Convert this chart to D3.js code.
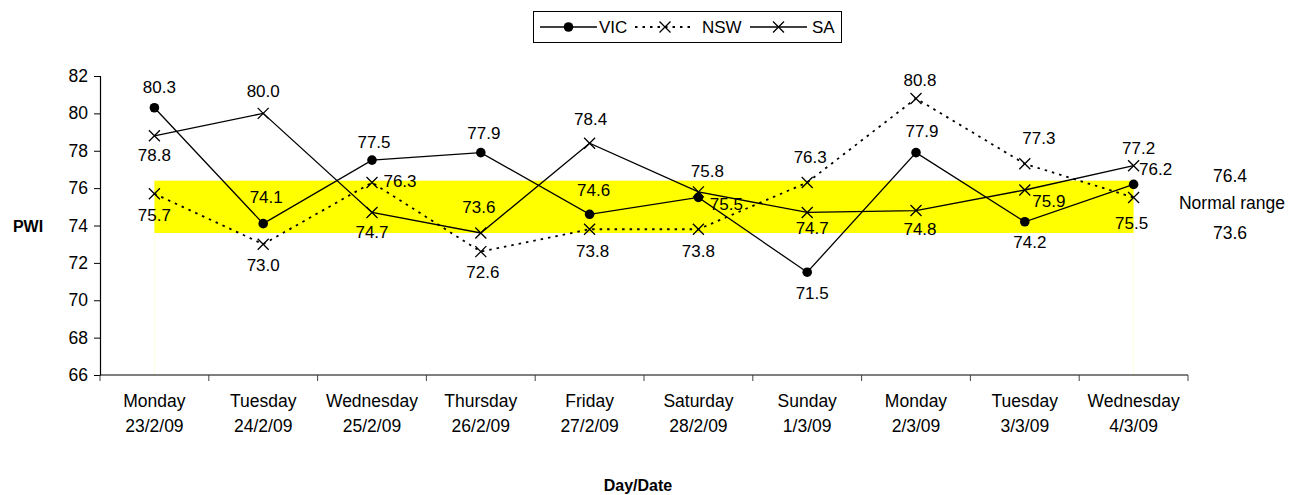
<!DOCTYPE html>
<html>
<head>
<meta charset="utf-8">
<script src="https://cdn.jsdelivr.net/npm/d3@7"></script>
<style>
  body { margin: 0; background: #fff; }
  svg text { font-family: "Liberation Sans", Arial, sans-serif; fill: #000; }
</style>
</head>
<body>
<div id="chart-area"></div>
<script>
// Chart data
const days = ['Monday', 'Tuesday', 'Wednesday', 'Thursday', 'Friday', 'Saturday', 'Sunday', 'Monday', 'Tuesday', 'Wednesday'];
const dates = ['23/2/09', '24/2/09', '25/2/09', '26/2/09', '27/2/09', '28/2/09', '1/3/09', '2/3/09', '3/3/09', '4/3/09'];
const vicValues = [80.3, 74.1, 77.5, 77.9, 74.6, 75.5, 71.5, 77.9, 74.2, 76.2];
const nswValues = [75.7, 73.0, 76.3, 72.6, 73.8, 73.8, 76.3, 80.8, 77.3, 75.5];
const saValues = [78.8, 80.0, 74.7, 73.6, 78.4, 75.8, 74.7, 74.8, 75.9, 77.2];
const normalLow = 73.6;
const normalHigh = 76.4;
const yTicks = [66, 68, 70, 72, 74, 76, 78, 80, 82];

// Where each data label sits relative to its point: [dx, dy] of the label centre
const vicLabelPos = [[5, -21], [3, -27], [2, -18], [3, -20], [4, -24], [28, 7], [5, 21], [6, -22], [5, 20], [22, -15]];
const nswLabelPos = [[0, 21], [0, 21], [28, -1], [2, 20], [3, 22], [0, 22], [3, -25], [4, -18], [14, -26], [-2, 26]];
const saLabelPos = [[0, 19], [0, -22], [0, 20], [-2, -26], [1, -24], [9, -21], [5, 16], [4, 18], [24, 11], [5, -18]];

function drawChart() {
    const width = 1303, height = 495;
    const margin = { top: 76, right: 115, bottom: 120, left: 100 };
    const innerW = width - margin.left - margin.right;
    const innerH = height - margin.top - margin.bottom;

    const svg = d3.select("#chart-area")
        .append("svg")
        .attr("width", width)
        .attr("height", height);

    const g = svg.append("g")
        .attr("transform", `translate(${margin.left},${margin.top})`);

    const x = d3.scaleBand()
        .domain(d3.range(days.length))
        .range([0, innerW]);

    const y = d3.scaleLinear()
        .domain([66, 82])
        .range([innerH, 0]);

    const cx = i => x(i) + x.bandwidth() / 2;

    // Normal range band (yellow)
    const first = cx(0), last = cx(days.length - 1);
    g.append("rect")
        .attr("x", first)
        .attr("y", y(normalHigh))
        .attr("width", last - first)
        .attr("height", y(normalLow) - y(normalHigh))
        .attr("fill", "#ffff00");

    // faint drop lines at the band ends
    [first, last].forEach(px => {
        g.append("line")
            .attr("x1", px).attr("x2", px)
            .attr("y1", y(normalLow)).attr("y2", innerH)
            .attr("stroke", "#fffde0")
            .attr("stroke-width", 1);
    });

    // Y axis
    const yAxis = g.append("g")
        .call(d3.axisLeft(y).tickValues(yTicks).tickSize(6).tickPadding(6).tickFormat(d3.format("d")));
    yAxis.select(".domain").attr("stroke", "#000").attr("stroke-width", 1.2);
    yAxis.selectAll(".tick line").attr("stroke", "#000");
    yAxis.selectAll("text").style("font-size", "17.5px");

    // X axis (ticks between categories)
    const xAxis = g.append("g")
        .attr("transform", `translate(0,${innerH})`);
    xAxis.append("line")
        .attr("x1", 0).attr("x2", innerW)
        .attr("y1", 0).attr("y2", 0)
        .attr("stroke", "#000")
        .attr("stroke-width", 1.2);
    xAxis.selectAll(".xtick")
        .data(d3.range(days.length + 1))
        .enter()
        .append("line")
        .attr("x1", i => i * x.bandwidth())
        .attr("x2", i => i * x.bandwidth())
        .attr("y1", 0).attr("y2", 6)
        .attr("stroke", "#444");

    const xLabels = xAxis.selectAll(".xlabel")
        .data(d3.range(days.length))
        .enter()
        .append("text")
        .attr("text-anchor", "middle")
        .style("font-size", "17.5px");
    xLabels.append("tspan")
        .attr("x", cx)
        .attr("y", 32)
        .text(i => days[i]);
    xLabels.append("tspan")
        .attr("x", cx)
        .attr("y", 57)
        .text(i => dates[i]);

    // Axis titles
    svg.append("text")
        .attr("x", 28)
        .attr("y", 232)
        .attr("text-anchor", "middle")
        .style("font-size", "16px")
        .style("font-weight", "bold")
        .text("PWI");

    svg.append("text")
        .attr("x", 638)
        .attr("y", 491)
        .attr("text-anchor", "middle")
        .style("font-size", "16px")
        .style("font-weight", "bold")
        .text("Day/Date");

    // Normal range labels on the right
    const rx = 1230;
    svg.append("text")
        .attr("x", rx).attr("y", margin.top + y(normalHigh) + 1)
        .attr("text-anchor", "middle")
        .style("font-size", "17.5px")
        .text(normalHigh.toFixed(1));
    svg.append("text")
        .attr("x", rx + 2).attr("y", margin.top + y((normalHigh + normalLow) / 2) + 2)
        .attr("text-anchor", "middle")
        .style("font-size", "17.5px")
        .text("Normal range");
    svg.append("text")
        .attr("x", rx).attr("y", margin.top + y(normalLow) + 6)
        .attr("text-anchor", "middle")
        .style("font-size", "17.5px")
        .text(normalLow.toFixed(1));

    // Series
    const series = [
        { name: "VIC", values: vicValues, dash: null, marker: "dot", labels: vicLabelPos },
        { name: "NSW", values: nswValues, dash: "2.5,5", marker: "x", labels: nswLabelPos },
        { name: "SA", values: saValues, dash: null, marker: "x", labels: saLabelPos }
    ];

    const line = d3.line()
        .x((d, i) => cx(i))
        .y(d => y(d));

    function drawMarker(sel, type, px, py) {
        if (type === "dot") {
            sel.append("circle")
                .attr("cx", px).attr("cy", py)
                .attr("r", 4.8)
                .attr("fill", "#000");
        } else {
            const s = 5.5;
            sel.append("path")
                .attr("d", `M${px - s},${py - s}L${px + s},${py + s}M${px - s},${py + s}L${px + s},${py - s}`)
                .attr("stroke", "#000")
                .attr("stroke-width", 1.3)
                .attr("fill", "none");
        }
    }

    series.forEach(s => {
        g.append("path")
            .datum(s.values)
            .attr("d", line)
            .attr("fill", "none")
            .attr("stroke", "#000")
            .attr("stroke-width", s.dash ? 1.8 : 1.3)
            .attr("stroke-dasharray", s.dash);

        const mg = g.append("g");
        s.values.forEach((v, i) => drawMarker(mg, s.marker, cx(i), y(v)));
    });

    // Data labels drawn last so they sit on top
    series.forEach(s => {
        g.append("g")
            .selectAll("text")
            .data(s.values)
            .enter()
            .append("text")
            .attr("x", (d, i) => cx(i) + s.labels[i][0])
            .attr("y", (d, i) => y(d) + s.labels[i][1])
            .attr("dy", "0.35em")
            .attr("text-anchor", "middle")
            .style("font-size", "17px")
            .text(d => d.toFixed(1));
    });

    // Legend
    const lg = svg.append("g");
    lg.append("rect")
        .attr("x", 533.5).attr("y", 11.5)
        .attr("width", 308).attr("height", 31)
        .attr("fill", "#fff")
        .attr("stroke", "#000")
        .attr("stroke-width", 1);

    const legendItems = [
        { s: series[0], x1: 540, x2: 597, tx: 599 },
        { s: series[1], x1: 635, x2: 695, tx: 702 },
        { s: series[2], x1: 750, x2: 807, tx: 812 }
    ];
    const ly = 27;
    legendItems.forEach(item => {
        lg.append("line")
            .attr("x1", item.x1).attr("x2", item.x2)
            .attr("y1", ly).attr("y2", ly)
            .attr("stroke", "#000")
            .attr("stroke-width", item.s.dash ? 1.8 : 1.3)
            .attr("stroke-dasharray", item.s.dash);
        drawMarker(lg, item.s.marker, (item.x1 + item.x2) / 2, ly);
        lg.append("text")
            .attr("x", item.tx).attr("y", ly)
            .attr("dy", "0.35em")
            .style("font-size", "17px")
            .text(item.s.name);
    });
}

drawChart();
</script>
</body>
</html>
